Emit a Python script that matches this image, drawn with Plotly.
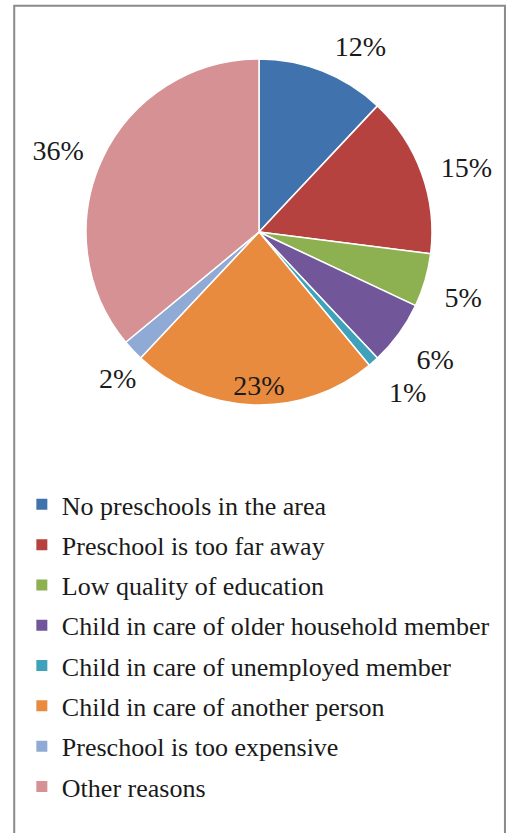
import plotly.graph_objects as go

reasons = [
    "No preschools in the area",
    "Preschool is too far away",
    "Low quality of education",
    "Child in care of older household member",
    "Child in care of unemployed member",
    "Child in care of another person",
    "Preschool is too expensive",
    "Other reasons",
]
shares = [12, 15, 5, 6, 1, 23, 2, 36]
colors = ["#4072AE", "#B5423F", "#8DB051", "#71569A", "#3FA2BA", "#E98B3F", "#90AAD6", "#D59193"]
# label placement per slice, split over three invisible label rings
upper_pos = ["outside", "outside", "none", "none", "none", "inside", "none", "outside"]
lower_right_pos = ["none", "none", "outside", "outside", "outside", "none", "none", "none"]
lower_left_pos = ["none", "none", "none", "none", "none", "none", "outside", "none"]

fig = go.Figure()

# coloured pie, no text
fig.add_trace(go.Pie(
    labels=reasons,
    values=shares,
    sort=False,
    direction="clockwise",
    rotation=0,
    marker=dict(colors=colors, line=dict(color="white", width=1.5)),
    textposition="none",
    domain=dict(x=[0.1693, 0.8504], y=[0.5138, 0.9292]),
    hoverinfo="label+value",
    showlegend=False,
))

# transparent rings that only carry the percentage labels
label_font = dict(family="Liberation Serif", size=28, color="#1a1a1a")
rings = [
    (upper_pos, [0.1457, 0.874], [0.4994, 0.9436]),
    (lower_right_pos, [0.1457, 0.874], [0.4838, 0.928]),
    (lower_left_pos, [0.1851, 0.9134], [0.4838, 0.928]),
]
for pos, xdom, ydom in rings:
    fig.add_trace(go.Pie(
        labels=reasons,
        values=shares,
        sort=False,
        direction="clockwise",
        rotation=0,
        hole=0.686,
        marker=dict(colors=["rgba(0,0,0,0)"] * len(shares), line=dict(width=0)),
        texttemplate="%{value}%",
        textposition=pos,
        insidetextorientation="horizontal",
        textfont=label_font,
        domain=dict(x=xdom, y=ydom),
        hoverinfo="skip",
        showlegend=False,
    ))

# legend entries
for name, c in zip(reasons, colors):
    fig.add_trace(go.Scatter(
        x=[None], y=[None], mode="markers", name=name, legendgroup=name,
        marker=dict(symbol="square", size=11, color=c),
    ))

fig.update_xaxes(visible=False)
fig.update_yaxes(visible=False)
fig.update_layout(
    width=508, height=833,
    margin=dict(l=0, r=0, t=0, b=0),
    paper_bgcolor="white",
    plot_bgcolor="rgba(0,0,0,0)",
    font=dict(family="Liberation Serif", color="#1a1a1a"),
    uniformtext=dict(minsize=28, mode="show"),
    showlegend=True,
    legend=dict(
        x=0.043, y=0.4226, xanchor="left", yanchor="top",
        font=dict(size=26, family="Liberation Serif"),
        traceorder="grouped", tracegroupgap=3.5,
        bgcolor="rgba(0,0,0,0)",
    ),
    shapes=[dict(type="rect", xref="paper", yref="paper",
                 x0=0.028, x1=0.994, y0=-0.02, y1=0.993,
                 line=dict(color="#8a8a8a", width=2))],
)

fig.write_html("out.html", config={"displayModeBar": False},
               post_script="document.body.style.margin='0';")
